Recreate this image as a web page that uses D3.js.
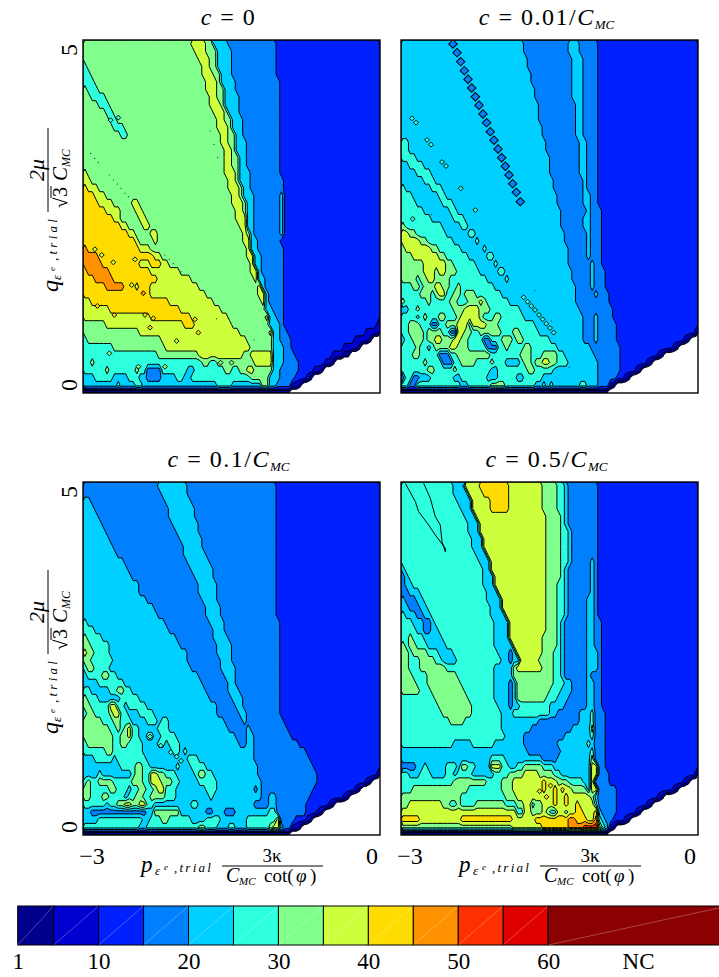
<!DOCTYPE html>
<html>
<head>
<meta charset="utf-8">
<script src="https://cdn.jsdelivr.net/npm/d3@7"></script>
<style>
body { margin: 0; background: #fff; }
text { font-family: "Liberation Serif", serif; fill: #000; }
</style>
</head>
<body>
<script>
// iteration classes: band k covers bandEdges[k]..bandEdges[k+1]
var bandEdges = [1, 5, 10, 15, 20, 25, 30, 35, 40, 45, 50, 55, 60, 80];
var bandColors = ["#00008c", "#0000d0", "#0020ff", "#0080ff", "#00d0ff", "#2effdf", "#80ff8c",
    "#ceff3c", "#ffdc00", "#ff9000", "#ff3000", "#e00000", "#8b0000"];
var cbTicks = [1, 10, 20, 30, 40, 50, 60];
var pTicks = [-3, 0], qTicks = [0, 5];
var nCols = 80;

// each row, top to bottom: band, end column, band, end column, ..., last band (-1 = no result)
var rowsA = [
[6,29,7,33,6,35,4,39,3,52,2],[6,30,7,33,6,36,4,40,3,52,2],[6,31,7,34,6,36,4,40,3,52,2],
[5,1,6,32,7,34,6,36,4,40,3,52,2],[5,2,6,32,7,35,6,37,4,40,3,52,2],[5,3,6,33,7,36,6,37,4,41,3,53,2],
[6,1,5,4,6,33,7,36,6,38,4,41,3,53,2],[6,2,5,6,6,34,7,36,6,38,4,42,3,53,2],[6,4,5,7,6,34,7,37,6,38,4,42,3,53,2],
[6,6,5,8,6,35,7,38,6,39,4,42,3,53,2],[6,7,5,9,6,36,7,38,6,40,4,43,3,53,2],[6,8,5,11,6,36,7,39,6,40,4,43,3,53,2],
[6,10,5,12,6,37,7,39,6,41,4,43,3,53,2],[6,37,7,39,6,41,4,44,3,53,2],[6,38,7,40,6,41,4,44,3,53,2],
[6,38,7,40,6,42,4,44,3,53,2],[6,38,7,40,6,42,4,44,3,53,2],[7,1,6,38,7,41,6,42,4,45,3,53,2],
[7,2,6,39,7,41,6,42,4,45,3,54,2],[8,1,7,4,6,39,7,42,6,43,4,45,3,54,2],[8,3,7,6,6,40,7,42,6,43,4,46,3,53,4,54,2],
[8,4,7,8,6,13,7,15,6,40,7,43,6,44,4,46,3,53,4,54,2],[8,6,7,10,6,14,7,16,6,41,7,43,6,44,4,46,3,53,4,54,2],
[8,8,7,10,6,15,7,17,6,41,7,44,4,46,3,53,4,54,2],[8,10,7,12,6,16,7,18,6,42,7,44,4,46,3,53,4,54,2],
[8,12,7,14,6,18,7,20,6,43,7,44,6,45,4,46,3,53,4,54,2],[8,14,7,15,6,19,7,20,6,43,7,45,4,47,3,53,2],
[9,1,8,15,7,18,6,44,7,45,4,47,3,54,2],[9,4,8,19,7,21,6,44,7,46,4,48,3,54,2],
[9,5,8,15,7,18,8,21,7,23,6,45,7,46,4,48,3,54,2],[8,1,9,7,8,18,7,26,6,45,7,47,4,48,3,54,2],
[8,3,9,8,8,20,7,29,6,46,7,47,4,49,3,54,2],[8,6,9,11,8,14,7,15,8,18,7,31,6,47,7,48,4,49,3,54,2],
[8,18,7,33,6,47,7,49,4,50,3,54,2],[7,2,8,23,7,35,6,48,7,49,4,50,3,54,2],[7,7,8,26,7,37,6,49,4,51,3,54,2],
[7,18,8,29,7,39,6,49,7,50,4,52,3,54,2],[6,6,7,27,8,30,7,40,6,50,4,53,3,54,2,79,1],
[6,15,7,42,6,50,7,51,4,53,3,55,2,76,1],[5,1,6,21,7,44,6,51,4,53,3,56,2,73,1,77,0,78,-1],
[5,8,6,22,7,45,6,51,4,54,3,56,2,70,1,74,0,75,-1],[5,20,6,31,7,43,6,45,7,51,4,54,3,57,2,67,1,70,0,72,-1],
[5,2,6,3,5,32,6,34,5,36,6,46,7,51,4,54,3,58,2,65,1,67,0,68,-1],
[5,6,6,7,5,14,6,15,5,17,3,21,5,28,4,30,5,38,6,40,5,42,6,44,7,46,6,51,4,53,3,58,2,62,1,64,0,65,-1],
[4,3,5,8,4,12,5,15,4,17,3,21,4,25,5,27,4,29,5,45,6,50,4,53,3,57,2,60,1,61,0,62,-1],
[4,9,5,10,4,14,5,16,4,36,5,40,4,48,6,50,4,52,3,56,1,58,0,59,-1],[0,56,-1]
];

var rowsB = [
[4,33,3,45,4,48,3,53,2],[4,33,3,45,4,48,3,53,2],[4,34,3,46,4,49,3,53,2],
[4,34,3,46,4,49,3,53,2],[4,35,3,46,4,49,3,53,2],[4,35,3,46,4,49,3,53,2],
[4,36,3,46,4,49,3,53,2],[4,36,3,46,4,49,3,53,2],[4,37,3,47,4,49,3,53,2],
[4,37,3,47,4,49,3,53,2],[4,37,3,47,4,49,3,53,2],[4,38,3,47,4,49,3,53,2],
[4,38,3,47,4,49,3,53,2],[5,2,4,39,3,48,4,50,3,53,2],[5,2,4,39,3,48,4,50,3,53,2],
[5,4,4,40,3,48,4,50,3,53,2],[4,2,5,6,4,40,3,48,4,50,3,53,2],
[4,4,5,8,4,40,3,48,4,50,3,53,2],[4,6,5,9,4,41,3,49,4,50,3,53,2],
[5,1,4,8,5,11,4,41,3,49,4,50,3,53,2],[5,3,4,10,5,12,4,42,3,49,4,51,3,53,2],
[5,4,4,11,5,14,4,42,3,49,4,51,3,53,2],[5,6,4,13,5,15,4,43,3,50,4,51,3,54,2],
[5,8,4,14,5,17,4,43,3,49,4,51,3,54,2],[6,1,5,11,4,16,5,18,4,43,3,49,4,51,3,54,2],
[7,2,6,4,5,12,4,18,5,20,4,44,3,50,4,51,3,54,2],[7,5,6,7,5,14,4,20,5,21,4,44,3,50,4,51,3,54,2],
[6,1,7,8,6,10,5,16,4,22,5,23,4,45,3,50,4,51,3,54,2],[6,3,7,10,6,12,5,18,4,23,5,25,4,45,3,50,4,51,3,54,2],
[6,6,7,12,6,14,5,20,4,25,5,26,4,45,3,51,4,52,3,54,2],[6,6,7,9,6,10,7,12,6,15,5,21,4,26,5,28,4,46,3,51,4,52,3,55,2],
[6,4,5,5,6,7,7,9,6,13,5,23,4,28,5,29,4,46,3,51,4,52,3,55,2],
[5,3,6,5,5,6,6,9,7,11,6,13,5,15,6,16,5,25,4,47,3,51,4,52,3,55,2],
[5,5,6,8,5,9,6,10,7,12,5,14,6,16,5,17,6,20,5,27,4,47,3,52,4,53,3,56,2],
[6,1,5,7,6,8,5,13,6,15,5,18,6,21,7,22,6,23,5,29,4,47,3,56,2],
[4,2,5,4,6,5,5,14,6,17,7,21,6,24,5,32,4,48,3,57,2],
[5,4,4,5,5,6,6,7,5,10,6,12,5,15,6,16,7,21,6,22,5,25,6,27,5,33,4,49,3,52,4,53,3,57,2],
[5,2,6,5,5,8,3,10,5,12,6,15,7,18,5,19,7,23,6,26,5,36,4,49,3,52,4,53,3,58,2],
[5,2,6,6,5,7,6,11,5,13,3,15,7,17,6,19,5,21,6,27,5,30,6,32,5,37,4,49,3,52,4,53,3,58,2,79,1],
[4,1,5,3,6,6,5,7,6,9,7,11,6,14,7,16,6,18,5,22,3,24,5,27,6,30,5,31,6,33,5,40,4,49,3,52,4,53,3,58,2,76,1,77,0,78,-1],
[5,4,6,5,5,7,4,8,5,9,6,13,7,15,6,18,5,23,3,26,5,28,6,29,5,33,6,35,5,42,4,51,3,59,2,73,1,74,0,75,-1],
[5,3,6,5,5,10,3,13,5,15,6,24,5,32,6,35,5,38,6,42,5,44,4,52,3,59,2,69,1,70,0,71,-1],
[5,6,6,7,5,11,3,14,5,16,6,20,5,24,6,25,5,28,4,32,5,33,6,35,5,36,6,38,7,40,6,42,5,45,4,53,3,59,2,66,1,67,0,68,-1],
[5,7,6,9,5,14,6,15,5,24,4,26,5,34,6,36,5,41,4,53,3,59,2,63,1,64,0,65,-1],
[3,1,5,3,3,5,4,8,5,14,4,16,5,23,4,26,5,31,4,33,5,38,4,53,3,58,2,60,1,61,0,62,-1],
[5,2,3,4,5,16,4,18,5,24,6,28,5,36,4,38,5,39,4,40,5,41,4,48,5,50,4,53,3,56,1,57,0,58,-1],[0,56,-1]
];

var rowsC = [
[3,20,4,28,3,52,2],[3,21,4,28,3,52,2],[4,2,3,22,4,29,3,52,2],[4,3,3,23,4,30,3,52,2],[4,4,3,23,4,30,3,52,2],
[4,5,3,24,4,31,3,52,2],[4,6,3,25,4,31,3,52,2],[4,7,3,26,4,32,3,52,2],[4,8,3,27,4,32,3,52,2],[4,9,3,27,4,33,3,52,2],
[4,11,3,28,4,34,3,52,2],[4,12,3,29,4,35,3,52,2],[4,13,3,30,4,35,3,52,2],[4,15,3,31,4,36,3,52,2],[4,15,3,31,4,36,3,52,2],
[4,17,3,32,4,36,3,52,2],[4,19,3,33,4,37,3,52,2],[4,20,3,33,4,37,3,52,2],[5,1,4,22,3,34,4,38,3,53,2],[5,3,4,23,3,35,4,38,3,53,2],
[6,1,5,5,4,25,3,35,4,39,3,53,2],[6,2,5,7,4,26,3,36,4,40,3,53,2],[7,1,6,3,5,7,4,28,3,36,4,40,3,53,2],[6,2,5,8,4,28,3,37,4,40,3,53,2],
[5,1,6,3,5,7,4,29,3,37,4,41,3,53,2],[4,1,5,5,6,7,5,9,4,31,3,38,4,41,3,53,2],[4,4,5,11,4,32,3,39,4,41,3,53,2],
[5,2,4,7,5,9,6,11,5,13,4,33,3,39,4,42,3,53,2],[6,1,5,4,4,10,5,15,4,34,3,40,4,43,3,53,2],
[6,2,5,7,7,9,5,11,4,12,5,17,4,36,3,41,4,43,3,53,2],[5,1,6,3,5,7,6,8,7,10,5,12,4,15,5,19,4,36,3,42,4,44,3,53,2],
[6,5,5,8,6,10,5,13,4,17,5,20,4,21,5,23,4,38,3,43,4,44,3,54,2],[6,7,5,9,6,10,5,11,6,12,7,13,5,15,4,20,5,23,4,39,3,44,4,45,3,55,2],
[6,8,5,10,6,12,7,13,5,15,4,17,5,19,4,21,5,25,4,41,3,44,4,46,3,56,2],[5,1,6,8,5,10,6,12,5,16,4,20,5,22,4,23,5,26,4,42,3,44,4,46,3,58,2],
[5,6,6,8,5,16,4,24,5,26,4,27,5,28,4,46,3,60,2],[4,3,5,8,4,9,5,17,4,28,5,31,4,46,3,61,2],
[4,10,5,14,6,16,5,18,4,25,5,26,4,29,5,33,4,47,3,62,2],[4,4,5,5,4,13,5,14,6,16,5,18,7,20,6,22,5,25,4,30,5,31,6,33,5,35,4,47,3,63,2,79,1],
[5,1,6,2,5,4,6,8,5,13,6,16,5,18,7,21,6,24,5,26,4,31,5,36,4,48,3,63,2,76,1,77,0,78,-1],
[6,2,5,7,6,9,5,12,4,13,5,15,6,17,5,19,6,20,7,22,5,25,4,33,5,36,4,46,3,47,4,48,3,62,2,73,1,74,0,75,-1],
[6,2,5,5,6,7,5,11,4,12,5,14,6,16,5,18,6,22,5,25,4,34,5,35,4,48,3,50,4,52,3,61,2,70,1,71,0,72,-1],
[5,6,4,7,5,9,6,11,7,13,6,15,7,17,5,19,4,29,5,31,4,46,3,50,4,52,3,60,2,66,1,67,0,68,-1],
[4,2,3,17,4,19,6,26,4,33,3,35,4,38,3,41,4,50,5,52,3,60,2,63,1,64,0,65,-1],
[4,4,5,16,4,18,5,21,6,23,5,29,4,33,5,37,4,44,5,52,7,53,3,57,2,60,1,61,0,62,-1],
[5,15,4,17,5,31,6,33,5,36,4,39,5,41,4,44,5,50,6,51,7,53,4,54,3,56,1,58,0,59,-1],[0,56,-1]
];

var rowsD = [
[5,14,4,17,7,21,8,29,7,38,6,42,5,44,4,45,3,53,2],[5,14,4,18,7,22,8,29,7,38,6,42,5,44,4,45,3,53,2],
[5,15,4,19,7,24,8,29,7,38,6,42,5,44,4,45,3,53,2],[5,16,4,19,7,24,8,29,7,38,6,42,5,44,4,45,3,53,2],
[5,17,4,20,7,39,6,43,5,44,4,45,3,53,2],[5,18,4,21,7,39,6,43,5,44,4,45,3,53,2],[5,18,4,21,7,39,6,43,5,45,4,46,3,53,2],
[5,19,4,22,7,39,6,43,5,45,4,46,3,53,2],[5,19,4,22,7,39,6,43,5,45,4,46,3,53,2],[5,20,4,23,7,39,6,43,5,45,4,46,3,53,2],
[5,21,4,24,7,39,6,43,5,45,4,46,3,51,4,52,3,53,2],[4,1,5,22,4,24,7,39,6,43,5,44,4,45,3,51,4,52,3,53,2],
[3,1,4,2,5,22,4,25,7,39,6,43,5,44,4,45,3,51,4,52,3,53,2],[3,1,4,3,5,22,4,25,7,39,6,42,5,44,4,45,3,51,4,52,3,53,2],
[3,2,4,5,5,23,4,26,7,39,6,42,5,44,4,45,3,51,4,52,3,53,2],[4,1,3,4,4,6,5,23,4,27,7,39,6,42,5,44,4,45,3,50,4,52,3,53,2],
[4,2,3,5,4,7,5,24,4,27,7,39,6,42,5,44,4,45,3,50,4,52,3,53,2],[5,1,4,4,3,6,4,8,5,24,4,28,7,39,6,42,5,44,4,45,3,50,4,52,3,53,2],
[5,3,4,6,3,8,4,9,5,25,4,29,7,39,6,42,5,43,4,44,3,50,4,52,3,54,2],[5,4,4,6,3,8,4,10,5,25,4,29,7,39,6,42,5,43,4,44,3,50,4,52,3,54,2],
[5,2,6,3,5,6,4,11,5,25,4,29,7,38,6,42,5,43,4,44,3,50,4,52,3,54,2],[6,1,5,2,6,4,5,7,4,12,5,25,4,30,7,38,6,42,5,43,4,44,3,50,4,52,3,54,2],
[6,2,5,3,6,7,5,10,4,14,5,26,4,29,3,30,4,31,7,38,6,41,5,43,4,44,3,50,4,53,3,54,2],
[6,2,5,5,6,9,5,11,4,15,5,27,4,29,3,30,4,32,7,37,6,41,5,43,4,44,3,50,4,53,3,54,2],
[6,2,5,5,6,12,5,25,4,30,6,31,7,38,6,41,5,43,4,44,3,50,4,53,3,54,2],
[6,3,5,7,6,15,5,25,4,30,6,41,5,43,4,44,3,50,4,51,3,54,2],[6,4,5,7,6,16,5,25,4,29,3,30,4,31,6,41,5,44,4,46,3,50,4,52,3,54,2],
[6,5,5,8,6,17,5,25,4,29,3,30,4,31,6,40,5,43,4,46,3,50,4,52,3,54,2],[5,9,6,18,5,25,4,29,3,30,4,31,6,39,5,42,4,45,3,50,4,52,3,54,2],
[5,10,6,19,5,26,4,29,3,30,4,32,5,40,4,44,3,50,4,52,3,54,2],[5,11,6,19,5,27,4,30,5,40,4,42,3,48,4,51,5,52,3,55,2],
[5,13,6,17,5,27,4,37,3,48,4,51,5,52,3,55,2],[5,27,4,35,3,46,4,51,6,52,3,55,2],[5,28,4,33,3,44,4,51,5,52,3,55,2],
[5,14,4,19,5,25,4,33,3,42,4,50,5,51,4,52,3,55,2],[4,34,3,43,4,51,5,52,3,55,2],[4,24,5,28,4,38,3,42,4,51,6,52,3,55,2],
[3,4,4,6,5,7,4,12,5,15,4,16,6,18,5,20,4,24,7,27,5,29,4,31,5,33,6,38,5,41,4,51,7,53,3,55,2],
[5,2,4,5,5,8,4,12,5,14,4,15,5,19,4,25,5,29,6,33,7,37,6,41,5,43,4,51,7,53,3,56,2,79,1],
[5,14,6,23,5,27,6,30,7,38,8,39,7,42,6,45,5,49,4,51,7,52,3,56,2,76,1,77,0,78,-1],
[5,3,6,18,5,27,6,30,7,38,8,39,7,41,8,42,7,43,8,44,7,46,6,50,4,51,7,53,3,58,2,73,1,74,0,75,-1],
[6,16,5,28,6,31,7,41,8,42,7,44,8,45,7,51,6,52,4,53,3,58,2,69,1,70,0,71,-1],
[6,2,7,11,6,13,5,15,6,16,5,20,6,28,5,31,6,33,7,35,5,36,6,38,7,41,8,42,7,44,8,45,7,47,8,48,7,52,5,53,3,58,2,66,1,67,0,68,-1],
[7,31,5,33,7,35,6,38,7,39,6,40,5,42,7,44,6,45,7,47,8,49,7,52,8,53,4,54,3,58,2,63,1,64,0,65,-1],
[8,5,7,16,8,30,7,36,8,45,9,47,8,50,7,52,9,53,5,54,4,55,3,57,2,60,1,61,0,62,-1],
[6,30,7,38,8,45,9,49,10,53,7,54,5,55,4,56,1,57,0,58,-1],[0,56,-1]
];

// isolated cells of one band inside another, p and q as on the axes
var beadP = [-2.475,-2.434,-2.397,-2.360,-2.323,-2.286,-2.249,-2.212,-2.172,-2.135,-2.098,-2.061,-2.020,-1.983,-1.946,-1.909,-1.872,-1.835,-1.795];
var beadQ = [4.943,4.821,4.693,4.566,4.443,4.320,4.197,4.075,3.952,3.829,3.702,3.579,3.456,3.333,3.211,3.088,2.965,2.842,2.710];
var spotsA = [
[-2.855,1.233,8],[-2.684,1.105,8],[-2.374,1.105,8],[-2.290,1.058,8],[-1.869,1.044,8],[-1.835,0.855,8],[-2.054,0.737,7],[-2.323,0.926,8],
[-2.734,0.562,6],[-2.441,0.373,6],[-2.172,0.373,6],[-1.610,0.430,6],[-1.500,0.430,6],[-2.811,1.955,7],[-2.694,1.851,7],[-2.475,1.893,7],
[-2.508,1.530,7],[-2.879,2.036,7],[-2.391,1.413,9],[-2.722,3.865,5],[-2.644,3.900,5]
];
var spotsB = [
[-2.889,3.891,5],[-2.848,3.829,5],[-2.737,3.584,5],[-2.697,3.518,5],[-2.586,3.272,5],[-2.545,3.215,5],[-2.397,2.899,5],[-2.249,2.592,5],
[-2.882,2.465,5],[-1.761,1.355,5],[-1.721,1.293,5],[-1.684,1.233,5],[-1.646,1.176,5],[-1.606,1.105,5],[-1.569,1.044,5],[-1.532,0.982,5],
[-1.495,0.921,5],[-1.458,0.855,5]
];
var spotsC = [[-2.323,1.394,5],[-2.215,1.266,5],[-2.114,1.172,5],[-2.054,1.110,5],[-2.010,1.049,5]];
var spotsD = [[-1.600,0.620,8],[-1.530,0.540,8],[-1.490,0.700,8]];
// single black dots
var dotsA = [
[-2.923,3.394],[-2.882,3.323],[-2.845,3.268],[-2.734,3.088],[-2.693,3.017],[-2.653,2.960],[-2.616,2.899],[-2.576,2.829],[-2.542,2.781],
[-1.717,3.711],[-1.677,3.523],[-1.640,3.334],[-2.172,1.955],[-2.128,1.894],[-2.088,1.837],[-2.047,1.776],[-2.010,1.719],[-1.650,1.050],[-1.272,0.750]
];
var dotsB = [[-2.690,2.530],[-1.650,1.450],[-1.480,1.020],[-1.300,0.360]];
// outline that stays inside one band
var lensP = [-2.956,-2.855,-2.822,-2.721,-2.653,-2.552,-2.552,-2.586,-2.603,-2.653,-2.704,-2.771];
var lensQ = [4.981,4.721,4.580,4.391,4.249,4.061,4.013,4.155,4.391,4.509,4.769,4.981];

var panels = [
    { rows: rowsA, left: 83, top: 40, title: [["c", 1], [" = 0", 0]], spots: spotsA, dots: dotsA, ylab: true },
    { rows: rowsB, left: 401, top: 40, title: [["c", 1], [" = 0.01/", 0], ["C", 1], ["MC", 2]], spots: spotsB, dots: dotsB, beads: true },
    { rows: rowsC, left: 83, top: 482, title: [["c", 1], [" = 0.1/", 0], ["C", 1], ["MC", 2]], spots: spotsC, dots: [], bottom: true, ylab: true },
    { rows: rowsD, left: 401, top: 482, title: [["c", 1], [" = 0.5/", 0], ["C", 1], ["MC", 2]], spots: spotsD, dots: [], bottom: true, lens: true }
];

var pw = 297, ph = 353;

var svg = d3.select("body").append("svg")
    .attr("width", 719)
    .attr("height", 977)
    .style("display", "block");

// middle of a band, used as the grid value
function bandValue(k) {
    if (k < 0) return -4;
    if (k == 0) return 3;
    return (bandEdges[k] + bandEdges[k + 1]) / 2;
}

function expandRows(rows) {
    var grid = [];
    rows.forEach(function(r) {
        var c = 0;
        for (var i = 0; i < r.length; i += 2) {
            var end = i + 1 < r.length ? r[i + 1] : nCols;
            for (; c < end; c++) grid.push(bandValue(r[i]));
        }
    });
    return grid;
}

function drawPanel(p, idx) {
    var x = d3.scaleLinear().domain([-3, 0]).range([0, pw]);
    var y = d3.scaleLinear().domain([0, 5]).range([ph, 0]);
    var nRows = p.rows.length;
    // last row is the narrow strip along q = 0
    var rowQ = d3.scaleLinear().domain([0, nRows - 1, nRows]).range([5, 0.057, 0]);

    var g = svg.append("g").attr("transform", "translate(" + p.left + "," + p.top + ")");
    var clipId = "clip" + idx;
    g.append("clipPath").attr("id", clipId).append("rect").attr("width", pw).attr("height", ph);

    var contours = d3.contours()
        .size([nCols, nRows])
        .thresholds(bandEdges.slice(0, 12))(expandRows(p.rows));

    var path = d3.geoPath(d3.geoTransform({
        point: function(cx, cy) {
            this.stream.point(x(-3 + 3 * cx / nCols), y(rowQ(cy)));
        }
    }));

    var inner = g.append("g").attr("clip-path", "url(#" + clipId + ")");
    inner.selectAll("path.band")
        .data(contours)
        .enter().append("path")
            .attr("class", "band")
            .attr("d", path)
            .attr("fill-rule", "evenodd")
            .attr("fill", function(d, i) { return bandColors[i]; })
            .attr("stroke", "#000")
            .attr("stroke-width", 1)
            .attr("stroke-linejoin", "round");

    if (p.beads) {
        inner.selectAll("path.bead")
            .data(beadP)
            .enter().append("path")
                .attr("class", "bead")
                .attr("d", d3.symbol(d3.symbolSquare).size(36))
                .attr("transform", function(d, i) {
                    return "translate(" + x(d) + "," + y(beadQ[i]) + ") rotate(45)";
                })
                .attr("fill", bandColors[3])
                .attr("stroke", "#000");
    }

    inner.selectAll("path.spot")
        .data(p.spots)
        .enter().append("path")
            .attr("class", "spot")
            .attr("d", d3.symbol(d3.symbolSquare).size(12))
            .attr("transform", function(d) {
                return "translate(" + x(d[0]) + "," + y(d[1]) + ") rotate(45)";
            })
            .attr("fill", function(d) { return bandColors[d[2]]; })
            .attr("stroke", "#000")
            .attr("stroke-width", 0.9);

    inner.selectAll("circle.dot")
        .data(p.dots)
        .enter().append("circle")
            .attr("class", "dot")
            .attr("cx", function(d) { return x(d[0]); })
            .attr("cy", function(d) { return y(d[1]); })
            .attr("r", 0.6)
            .attr("fill", "#222");

    if (p.lens) {
        var line = d3.line()
            .x(function(d) { return x(d); })
            .y(function(d, i) { return y(lensQ[i]); });
        inner.append("path")
            .attr("d", line(lensP))
            .attr("fill", "none")
            .attr("stroke", "#000")
            .attr("stroke-width", 1);
    }

    g.append("rect")
        .attr("width", pw).attr("height", ph)
        .attr("fill", "none").attr("stroke", "#000").attr("stroke-width", 1.4);

    // title
    var t = svg.append("text")
        .attr("x", p.left + pw / 2 - 3)
        .attr("y", p.top - 15)
        .attr("text-anchor", "middle")
        .style("font-size", "24px")
        .style("letter-spacing", "1.5px");
    p.title.forEach(function(s) {
        var sp = t.append("tspan").text(s[0]);
        if (s[1] == 1) sp.style("font-style", "italic");
        if (s[1] == 2) sp.style("font-style", "italic").style("font-size", "13px")
            .style("letter-spacing", "0").attr("dy", 4);
    });

    if (p.bottom) {
        g.selectAll(".ptick").data(pTicks).enter().append("text")
            .attr("x", function(d) { return x(d) + (d < 0 ? 9 : -8); })
            .attr("y", ph + 29)
            .attr("text-anchor", "middle")
            .style("font-size", "24px")
            .text(function(d) { return d < 0 ? "\u2212" + Math.abs(d) : d; });
        xLabel(g);
    }
    if (p.ylab) {
        g.selectAll(".qtick").data(qTicks).enter().append("text")
            .attr("transform", function(d) {
                return "translate(-6," + (y(d) + (d > 0 ? 10 : -8)) + ") rotate(-90)";
            })
            .attr("text-anchor", "middle")
            .style("font-size", "24px")
            .text(function(d) { return d; });
        yLabel(p);
    }
}

function put(g, txt, px, py, size, italic) {
    return g.append("text")
        .attr("x", px).attr("y", py)
        .style("font-size", size + "px")
        .style("font-style", italic ? "italic" : "normal")
        .text(txt);
}

function xLabel(g) {
    // origin: left end of the panel, bottom edge
    put(g, "p", 58, 390, 23, true);
    put(g, "\u03b5", 72, 393, 13, true);
    put(g, "e", 81, 388, 9, true);
    put(g, ", t r i a l", 91, 390, 13, true).style("word-spacing", "-1px");
    g.append("line").attr("x1", 139).attr("x2", 240).attr("y1", 384).attr("y2", 384)
        .attr("stroke", "#000").attr("stroke-width", 1);
    put(g, "3\u03ba", 189, 380, 19, false).attr("text-anchor", "middle");
    put(g, "C", 143, 400, 20, true);
    put(g, "MC", 156, 403, 11, true);
    put(g, "cot(", 181, 400, 19, false);
    put(g, "\u03c6", 213, 400, 19, true);
    put(g, ")", 227, 400, 19, false);
}

function yLabel(p) {
    var l = svg.append("g")
        .attr("transform", "translate(58," + (p.top + 252) + ") rotate(-90)");
    put(l, "q", 0, 0, 24, true);
    put(l, "\u03b5", 12, 3, 13, true);
    put(l, "e", 21, -3, 9, true);
    put(l, ", t r i a l", 31, -1, 13, true);
    l.append("line").attr("x1", 80).attr("x2", 164).attr("y1", -10).attr("y2", -10)
        .attr("stroke", "#000").attr("stroke-width", 1);
    put(l, "2\u03bc", 122, -14, 22, true).attr("text-anchor", "middle");
    put(l, "\u221a", 84, 9, 19, false);
    l.append("line").attr("x1", 94).attr("x2", 106).attr("y1", -7).attr("y2", -7)
        .attr("stroke", "#000").attr("stroke-width", 1);
    put(l, "3", 95, 9, 20, false);
    put(l, "C", 111, 9, 21, true);
    put(l, "MC", 125, 12, 12, true);
}

panels.forEach(drawPanel);

// colour bar
var cbX = d3.scaleLinear().domain([1, 80]).range([17.7, 728]);
var cb = svg.append("g");
var cbTop = 906, cbBottom = 945;
bandColors.forEach(function(col, i) {
    var x0 = cbX(bandEdges[i]), x1 = cbX(bandEdges[i + 1]);
    cb.append("rect")
        .attr("x", x0).attr("y", cbTop)
        .attr("width", x1 - x0).attr("height", cbBottom - cbTop)
        .attr("fill", col)
        .attr("stroke", "#000").attr("stroke-width", 1);
    cb.append("line")
        .attr("x1", x0).attr("y1", cbBottom).attr("x2", x1).attr("y2", cbTop)
        .attr("stroke", "#fff").attr("stroke-opacity", 0.35).attr("stroke-width", 0.8);
});

var cbAxis = d3.axisBottom(cbX)
    .tickValues(cbTicks.concat([70]))
    .tickSize(0)
    .tickPadding(8)
    .tickFormat(function(d) { return d == 70 ? "NC" : d; });

svg.append("g")
    .attr("transform", "translate(0," + cbBottom + ")")
    .call(cbAxis)
    .call(function(a) { a.select(".domain").remove(); })
    .selectAll("text")
        .style("font-family", '"Liberation Serif", serif')
        .style("font-size", "23px");
</script>
</body>
</html>
